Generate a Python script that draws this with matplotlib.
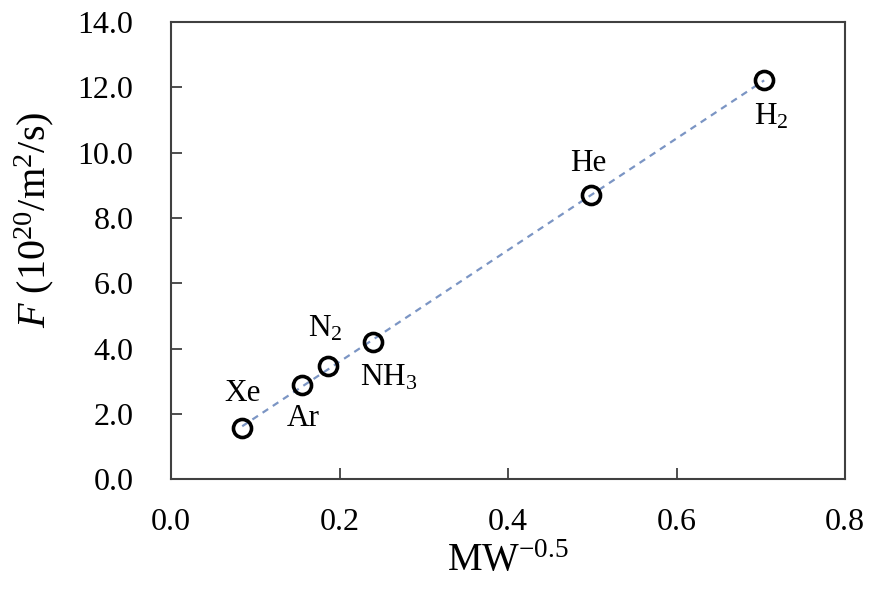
import numpy as np
import matplotlib
matplotlib.use('Agg')
import matplotlib.pyplot as plt

# data
gases = ['Xe', 'Ar', 'N$_2$', 'NH$_3$', 'He', 'H$_2$']
mw_inv_sqrt = [0.0845, 0.156, 0.186, 0.240, 0.499, 0.704]
flux = [1.56, 2.88, 3.46, 4.20, 8.70, 12.22]

# label anchors (data coords) for each gas
label_x = [0.085, 0.157, 0.183, 0.258, 0.495, 0.713]
label_y = [2.63, 1.87, 4.62, 3.10, 9.68, 11.09]

plt.rcParams['font.family'] = ['Liberation Serif', 'DejaVu Serif']
plt.rcParams['mathtext.fontset'] = 'custom'
plt.rcParams['mathtext.rm'] = 'Liberation Serif'
plt.rcParams['mathtext.it'] = 'Liberation Serif:italic'

fig = plt.figure(figsize=(8.83, 5.90), dpi=100)
ax = fig.add_axes([0.1937, 0.188, 0.7633, 0.7745])

# linear trend line (dashed)
k, b = np.polyfit(mw_inv_sqrt, flux, 1)
xs = np.array([mw_inv_sqrt[0], mw_inv_sqrt[-1]])
ax.plot(xs, k * xs + b, ls=(0, (3, 2.5)), color='#7b95c4', lw=1.6, zorder=1)

ax.plot(mw_inv_sqrt, flux, 'o', ms=13, mfc='none', mec='black', mew=2.6, zorder=2)

for name, tx, ty in zip(gases, label_x, label_y):
    ax.text(tx, ty, name, fontsize=22.5, ha='center', va='center')

ax.set_xlim(0, 0.8)
ax.set_ylim(0, 14)
ax.set_xticks(np.arange(0, 0.81, 0.2))
ax.set_yticks(np.arange(0, 14.1, 2))
ax.xaxis.set_major_formatter(matplotlib.ticker.FormatStrFormatter('%.1f'))
ax.yaxis.set_major_formatter(matplotlib.ticker.FormatStrFormatter('%.1f'))
ax.tick_params(direction='in', length=8, width=1.3, color='#404040',
               labelsize=23, top=False, right=False)
ax.tick_params(axis='x', pad=21)
ax.tick_params(axis='y', pad=27)

for sp in ax.spines.values():
    sp.set_color('#404040')
    sp.set_linewidth(1.5)

ax.set_xlabel('MW$^{\\mathrm{-0.5}}$', fontsize=28, labelpad=4)
ax.set_ylabel('$\\it{F}$ (10$^{20}$/m$^{2}$/s)', fontsize=29)
ax.yaxis.set_label_coords(-0.17, 0.567)

fig.savefig('out.png', dpi=100)
